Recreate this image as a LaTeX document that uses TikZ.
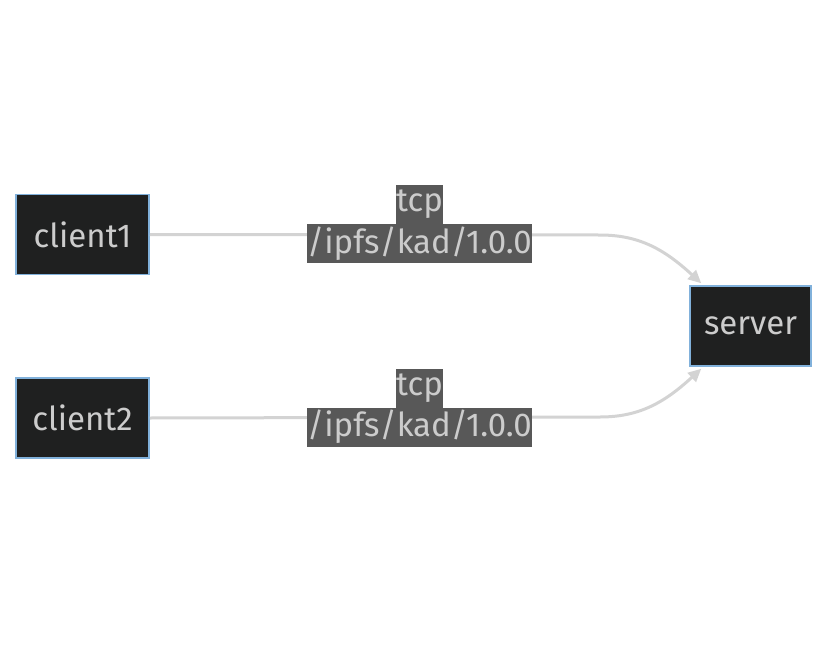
\documentclass[tikz,border=0pt]{standalone}
\usepackage{fontspec}
\setmainfont{Fira Sans}
\usetikzlibrary{arrows.meta,positioning,calc}
\definecolor{nodefill}{HTML}{1F2020}
\definecolor{nodeline}{HTML}{81B1DB}
\definecolor{txt}{HTML}{CCCCCC}
\definecolor{edgecol}{HTML}{D3D3D3}
\definecolor{lblfill}{HTML}{585858}
\tikzset{
  peer/.style={draw=nodeline, line width=1.5pt, fill=nodefill, text=txt, minimum width=133pt, minimum height=80pt, inner sep=0pt, font=\fontsize{33}{38}\selectfont},
  lbl/.style={fill=lblfill, text=txt, inner sep=0pt, outer sep=0pt, minimum height=39pt, font=\fontsize{33}{38}\selectfont},
  arrow/.style={-{Triangle[length=13pt,width=12pt]}, edgecol, line width=3pt}
}
\begin{document}
\begin{tikzpicture}[x=1pt, y=-1pt]
  \useasboundingbox (0,0) rectangle (828,653);
  \node[peer] (client1) at (82.5,234.5) {client1};
  \node[peer] (client2) at (82.5,418) {client2};
  \node[peer, minimum width=121pt] (server) at (750.5,326) {server};

  \draw[arrow] (client1.east) -- (600,235) .. controls (640,235) and (665,250) .. ($(server.north west)+(12,-2)$);
  \draw[arrow] (client2.east) -- (600,417) .. controls (640,417) and (665,402) .. ($(server.south west)+(12,2)$);

  \node[lbl] (path1) at (419.5,243.5) {/ipfs/kad/1.0.0};
  \node[lbl, above=0pt of path1] (tcp1) {tcp};
  \node[lbl] (path2) at (419.5,427) {/ipfs/kad/1.0.0};
  \node[lbl, above=0pt of path2] (tcp2) {tcp};
\end{tikzpicture}
\end{document}
